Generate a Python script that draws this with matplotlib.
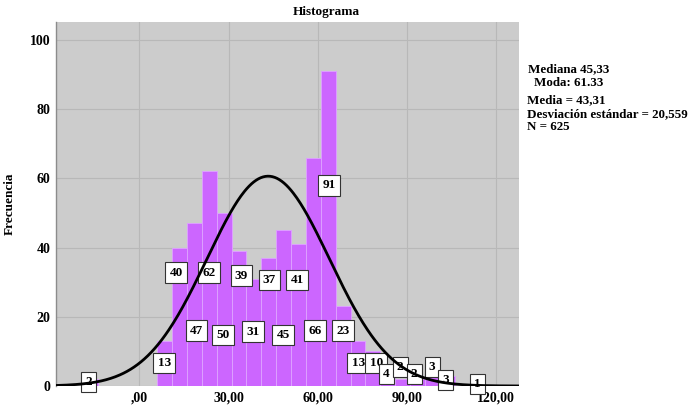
import numpy as np
import matplotlib.pyplot as plt

# histogram data (bin width 5)
bin_start = -19
bin_width = 5
counts = [2, 0, 0, 0, 0, 13, 40, 47, 62, 50, 39, 31, 37, 45, 41, 66, 91,
          23, 13, 10, 4, 2, 2, 3, 3, 0, 1]
# where the count labels were placed (offset from bin centre, height)
label_dx = [-0.6, 0, 0, 0, 0, -0.1, -1.1, 0.7, 0, -0.3, 0.8, -0.2,
            0.2, -0.1, -0.5, 0.6, 0.3, 0, 0.1, 1.1, -0.5, -0.8, -1.1, -0.1, -0.5,
            0, 0.1]
label_y = [1.2, None, None, None, None, 6.7, 32.8, 16.0, 32.8, 14.8, 31.9, 15.7,
           30.7, 14.8, 30.7, 16.0, 58.0, 16.0, 6.7, 6.7, 3.5, 5.5, 3.5, 5.5, 1.7,
           None, 0.6]

media = 43.31
desv = 20.559
n = 625
xticks = [0, 30, 60, 90, 120]
xticklabels = [",00", "30,00", "60,00", "90,00", "120,00"]
yticks = [0, 20, 40, 60, 80, 100]

plt.rcParams['font.family'] = ['Liberation Serif', 'DejaVu Serif']
plt.rcParams['font.weight'] = 'bold'

fig = plt.figure(figsize=(6.91, 4.08), dpi=100)
ax = fig.add_axes([56/691, 22/408, 463/691, 364/408])
ax.set_facecolor('#CCCCCC')

edges = bin_start + bin_width * np.arange(len(counts))
ax.bar(edges, counts, width=bin_width, align='edge', color='#CC66FF',
       edgecolor='#DDA0FF', linewidth=0.7, zorder=2)

for e, c, dx, ly in zip(edges, counts, label_dx, label_y):
    if c == 0:
        continue
    ax.text(e + bin_width/2 + dx, ly, str(c), ha='center', va='center', fontsize=9.5,
            fontweight='bold', zorder=3,
            bbox=dict(boxstyle='square,pad=0.32', fc='white', ec='#333333', lw=0.8))

xs = np.linspace(-28, 128, 400)
ys = n * bin_width * np.exp(-0.5 * ((xs - media) / desv) ** 2) / (desv * np.sqrt(2 * np.pi))
ax.plot(xs, ys, color='black', lw=2.0, zorder=4)

ax.set_xlim(-28, 127.6)
ax.set_ylim(0, 105.2)
ax.set_xticks(xticks)
ax.set_xticklabels(xticklabels)
ax.set_yticks(yticks)
ax.grid(True, color='#B8B8B8', lw=0.8, zorder=0)
ax.set_axisbelow(True)
ax.tick_params(length=0, labelsize=10, pad=4)
for s in ['top', 'right', 'bottom']:
    ax.spines[s].set_visible(False)
ax.spines['left'].set_color('#8C8C8C')
ax.spines['left'].set_linewidth(1.0)

ax.set_ylabel('Frecuencia', fontsize=9.5, fontweight='bold', labelpad=10)
fig.text(326/691, 1 - 12/408, 'Histograma', ha='center', va='center',
         fontsize=9.5, fontweight='bold')

fig.text(528/691, 1 - 69/408, 'Mediana 45,33', fontsize=9.4, va='center')
fig.text(534/691, 1 - 83/408, 'Moda: 61.33', fontsize=9.4, va='center')
fig.text(527/691, 1 - 100/408, 'Media = 43,31', fontsize=9.4, va='center')
fig.text(527/691, 1 - 114/408, 'Desviación estándar = 20,559', fontsize=9.4, va='center')
fig.text(527/691, 1 - 127/408, 'N = 625', fontsize=9.4, va='center')

fig.savefig('out.png', dpi=100)
